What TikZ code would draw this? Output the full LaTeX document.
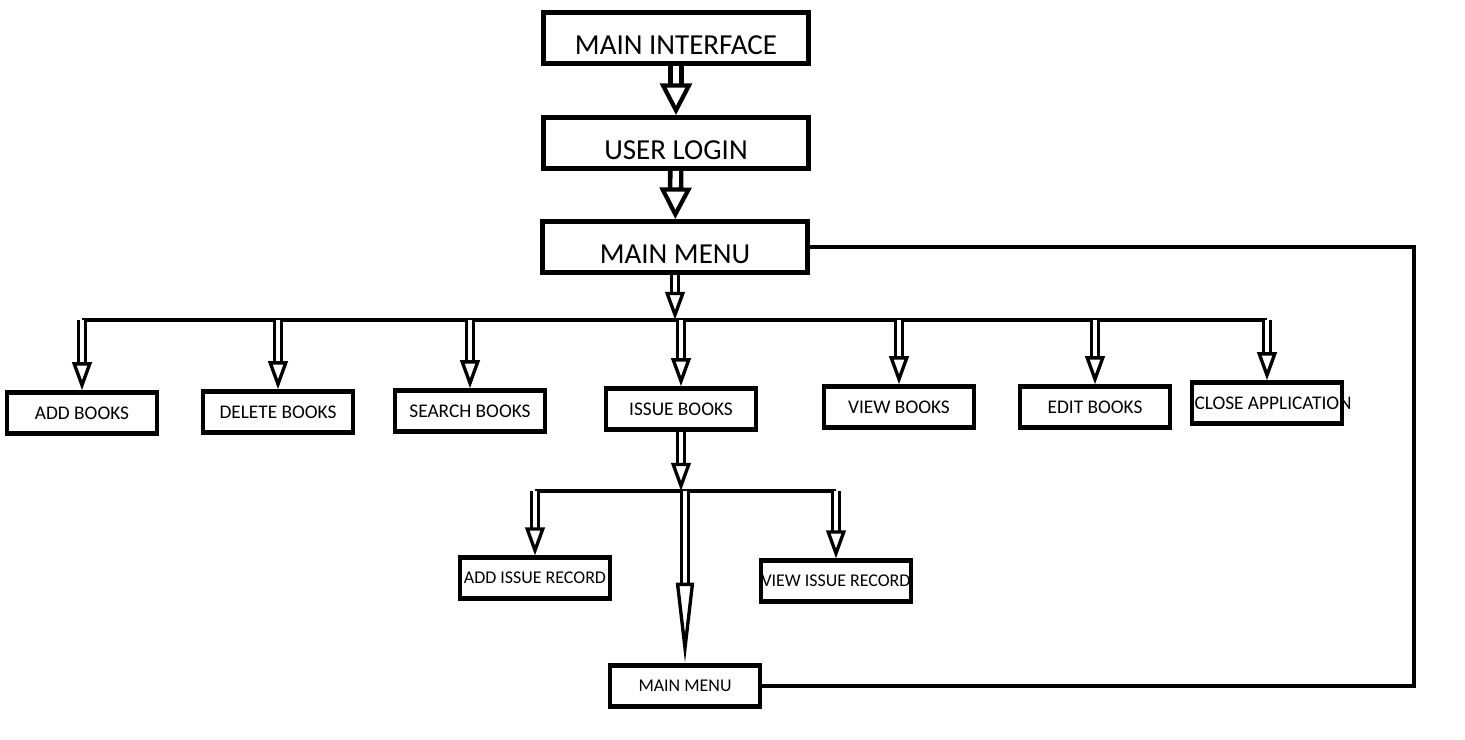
\documentclass[tikz,border=0pt]{standalone}
\usepackage{fontspec}
\setmainfont{Carlito}
\usetikzlibrary{arrows.meta}

\begin{document}
\begin{tikzpicture}[x=0.02cm, y=-0.02cm,
      bigbox/.style = {draw, line width=2.8pt, minimum width=5.3cm, minimum height=1.02cm,
        inner ysep=1pt, text height=19pt, text depth=0pt, font=\fontsize{16.5}{18}\selectfont},
      smallbox/.style = {draw, line width=2.5pt, minimum width=3cm, minimum height=0.82cm,
        inner xsep=2pt, font=\fontsize{11}{13}\selectfont},
      recbox/.style = {smallbox, line width=2.3pt, inner xsep=0pt, font=\fontsize{10.2}{12}\selectfont},
      bus/.style = {line width=2.3pt},
      bigarrow/.style = {line width=2.6pt, double, double distance=3.6pt,
        -{Triangle[open, length=18pt, width=18pt, line width=2.4pt]}},
      arrow/.style = {line width=2pt, double, double distance=1.8pt,
        -{Triangle[open, length=16pt, width=11pt, line width=1.9pt]}},
      longarrow/.style = {arrow, -{Triangle[open, length=46pt, width=10pt, line width=1.9pt]}}]
    \useasboundingbox (0, 0) rectangle (1465, 740);

    % top column
    \node[bigbox] (iface) at (676, 38) {MAIN INTERFACE};
    \node[bigbox] (login) at (676, 143) {USER LOGIN};
    \node[bigbox] (menu) at (675, 247) {MAIN MENU};

    % menu options
    \node[smallbox] (addb) at (82, 413) {ADD BOOKS};
    \node[smallbox] (delb) at (278, 412) {DELETE BOOKS};
    \node[smallbox] (srcb) at (470, 411) {SEARCH BOOKS};
    \node[smallbox] (issb) at (681, 409) {ISSUE BOOKS};
    \node[smallbox] (viewb) at (899, 407) {VIEW BOOKS};
    \node[smallbox] (editb) at (1095, 407) {EDIT BOOKS};
    \node[smallbox, inner xsep=0pt] (closeb) at (1267, 403)
      {\makebox[2.9cm][l]{CLOSE APPLICATION}};

    % issue options
    \node[recbox] (addrec) at (535, 578) {ADD ISSUE RECORD};
    \node[recbox] (viewrec) at (836, 581) {VIEW ISSUE RECORD};
    \node[recbox] (menu2) at (685, 686) {MAIN MENU};

    % bus lines
    \coordinate (bus1) at (0, 320);
    \coordinate (bus2) at (0, 491);
    \coordinate (loop) at (1414, 0);

    % arrows
    \draw[bigarrow] (iface) -- (login);
    \draw[bigarrow] (login) -- (menu);
    \draw[arrow] (menu.south) -- (menu.south |- bus1);
    \draw[bus] (addb.north |- bus1) -- (closeb.north |- bus1);
    \foreach \n in {addb, delb, srcb, issb, viewb, editb, closeb}
      \draw[arrow] (\n.north |- bus1) -- (\n.north);

    \draw[arrow] (issb.south) -- (issb.south |- bus2);
    \draw[bus] (addrec.north |- bus2) -- (viewrec.north |- bus2);
    \draw[arrow] (addrec.north |- bus2) -- (addrec.north);
    \draw[arrow] (viewrec.north |- bus2) -- (viewrec.north);
    \draw[longarrow] (menu2.north |- bus2) -- (menu2.north);

    % back to main menu
    \draw[bus] (menu.east) -- (menu.east -| loop) |- (menu2.east);
  \end{tikzpicture}
\end{document}
